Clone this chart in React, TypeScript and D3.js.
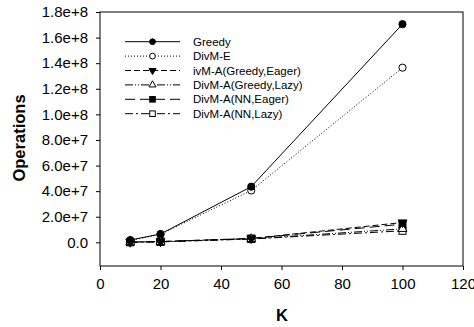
import React, { useEffect, useRef } from 'react';
import * as d3 from 'd3';

const W = 474;
const H = 327;

const kValues = [10, 20, 50, 100];
const seriesNames = [
  'Greedy',
  'DivM-E',
  'ivM-A(Greedy,Eager)',
  'DivM-A(Greedy,Lazy)',
  'DivM-A(NN,Eager)',
  'DivM-A(NN,Lazy)',
];
const greedy = [1.8e6, 6.5e6, 4.35e7, 1.705e8];
const divmE = [1.4e6, 6.3e6, 4.05e7, 1.365e8];
const greedyEager = [2e5, 6e5, 3.0e6, 1.55e7];
const greedyLazy = [1e5, 4e5, 2.7e6, 1.05e7];
const nnEager = [2e5, 6e5, 3.0e6, 1.42e7];
const nnLazy = [1e5, 4e5, 2.6e6, 9.0e6];
const yTicks = [0, 2e7, 4e7, 6e7, 8e7, 1e8, 1.2e8, 1.4e8, 1.6e8, 1.8e8];
const yTickLabels = ['0.0', '2.0e+7', '4.0e+7', '6.0e+7', '8.0e+7', '1.0e+8', '1.2e+8', '1.4e+8', '1.6e+8', '1.8e+8'];
const xTicks = [0, 20, 40, 60, 80, 100, 120];

type Marker = 'circle' | 'triDown' | 'triUp' | 'square';
type Style = { dash: string; marker: Marker; filled: boolean };
const styles: Style[] = [
  { dash: '', marker: 'circle', filled: true },
  { dash: '1,2', marker: 'circle', filled: false },
  { dash: '6,3', marker: 'triDown', filled: true },
  { dash: '8,2,1,2,1,2', marker: 'triUp', filled: false },
  { dash: '10,5', marker: 'square', filled: true },
  { dash: '8,3,2,3', marker: 'square', filled: false },
];

const FONT = 'Liberation Sans, Arial, sans-serif';

export default function App() {
  const ref = useRef<SVGSVGElement>(null);

  useEffect(() => {
    if (!ref.current) return;
    const svg = d3.select(ref.current);
    svg.selectAll('*').remove();

    const left = 100;
    const right = 463;
    const top = 12;
    const bottom = 266;

    const x = d3.scaleLinear().domain([0, 120]).range([left, right]);
    const y = d3.scaleLinear().domain([-1.85e7, 1.8e8]).range([bottom, top]);

    // frame
    svg.append('rect')
      .attr('x', left).attr('y', top)
      .attr('width', right - left).attr('height', bottom - top)
      .attr('fill', 'none').attr('stroke', '#000').attr('stroke-width', 1);

    // y axis
    const yAxis = d3.axisLeft(y).tickValues(yTicks).tickSize(4).tickPadding(8)
      .tickFormat((_, i) => yTickLabels[i]);
    const gy = svg.append('g').attr('transform', `translate(${left},0)`).call(yAxis);
    gy.select('.domain').remove();
    gy.selectAll('text').attr('font-size', 15).attr('font-family', FONT).attr('fill', '#000');

    // x axis
    const xAxis = d3.axisBottom(x).tickValues(xTicks).tickSize(4).tickPadding(8);
    const gx = svg.append('g').attr('transform', `translate(0,${bottom})`).call(xAxis);
    gx.select('.domain').remove();
    gx.selectAll('text').attr('font-size', 15).attr('font-family', FONT).attr('fill', '#000');

    // titles
    svg.append('text')
      .attr('x', 282).attr('y', 321)
      .attr('text-anchor', 'middle')
      .attr('font-size', 16.5).attr('font-weight', 'bold').attr('font-family', FONT)
      .text('K');
    svg.append('text')
      .attr('transform', `translate(25,138) rotate(-90)`)
      .attr('text-anchor', 'middle')
      .attr('font-size', 16.5).attr('font-weight', 'bold').attr('font-family', FONT)
      .text('Operations');

    const drawMarker = (
      g: d3.Selection<SVGGElement, unknown, null, undefined>,
      cx: number, cy: number, s: Style, k = 1,
    ) => {
      const fill = s.filled ? '#000' : '#fff';
      if (s.marker === 'circle') {
        g.append('circle').attr('cx', cx).attr('cy', cy).attr('r', 3.6 * k)
          .attr('fill', fill).attr('stroke', '#000').attr('stroke-width', 1);
      } else if (s.marker === 'square') {
        const h = 3.5 * k;
        g.append('rect').attr('x', cx - h).attr('y', cy - h).attr('width', 2 * h).attr('height', 2 * h)
          .attr('fill', fill).attr('stroke', '#000').attr('stroke-width', 1);
      } else {
        const sym = d3.symbol().type(d3.symbolTriangle).size(34 * k * k)();
        g.append('path').attr('d', sym ?? '')
          .attr('transform', `translate(${cx},${cy})${s.marker === 'triDown' ? ' rotate(180)' : ''}`)
          .attr('fill', fill).attr('stroke', '#000').attr('stroke-width', 1);
      }
    };

    const allSeries = [greedy, divmE, greedyEager, greedyLazy, nnEager, nnLazy];
    const line = d3.line<number>().x((_, i) => x(kValues[i])).y((d) => y(d));

    // low series first so Greedy ends up on top
    [5, 4, 3, 2, 1, 0].forEach((si) => {
      const s = styles[si];
      const g = svg.append('g');
      g.append('path')
        .attr('d', line(allSeries[si]) ?? '')
        .attr('fill', 'none').attr('stroke', '#000').attr('stroke-width', 1)
        .attr('stroke-dasharray', s.dash || null);
      allSeries[si].forEach((v, i) => drawMarker(g, x(kValues[i]), y(v), s));
    });

    // legend
    const lx1 = 125;
    const lx2 = 180;
    const ly0 = 41.7;
    const lstep = 14.4;
    seriesNames.forEach((name, i) => {
      const s = styles[i];
      const ly = ly0 + i * lstep;
      const g = svg.append('g');
      g.append('line')
        .attr('x1', lx1).attr('x2', lx2).attr('y1', ly).attr('y2', ly)
        .attr('stroke', '#000').attr('stroke-width', 1)
        .attr('stroke-dasharray', s.dash || null);
      drawMarker(g, (lx1 + lx2) / 2, ly, s, 0.8);
      g.append('text')
        .attr('x', 193).attr('y', ly + 4)
        .attr('font-size', 11.5).attr('font-family', FONT)
        .text(name);
    });
  }, []);

  return (
    <svg
      ref={ref}
      width={W}
      height={H}
      style={{ position: 'absolute', left: 0, top: 0, background: '#fff' }}
    />
  );
}
